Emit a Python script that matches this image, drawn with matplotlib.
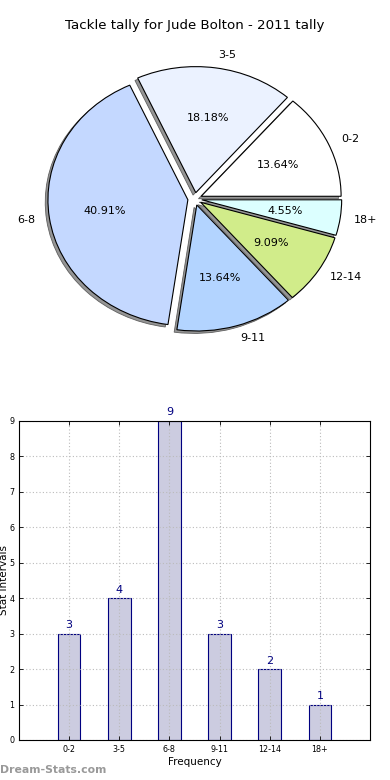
import matplotlib
matplotlib.use('Agg')
import matplotlib.pyplot as plt
import numpy as np

# tackle counts per stat interval
intervals = ['0-2', '3-5', '6-8', '9-11', '12-14', '18+']
counts = [3, 4, 9, 3, 2, 1]
pie_colors = ['#ffffff', '#ebf2ff', '#c4d8ff', '#b3d4ff', '#d1ec8a', '#dcffff']
title = 'Tackle tally for Jude Bolton - 2011 tally'

fig = plt.figure(figsize=(3.9, 7.8), dpi=100)

# pie on top (old style, not forced circular)
ax1 = fig.add_axes([0.051, 0.543, 0.897, 0.404])
ax1.pie(counts, labels=intervals, colors=pie_colors, explode=[0.05] * len(counts),
        autopct='%1.2f%%', startangle=0,
        shadow={'ox': -0.014, 'oy': -0.014, 'facecolor': '#8a8a8a', 'edgecolor': '#555555',
                'linewidth': 0.6, 'alpha': 0.9},
        wedgeprops={'edgecolor': 'black', 'linewidth': 0.8},
        textprops={'fontsize': 8})
ax1.set_aspect('auto')
ax1.set_xlim(-1.25, 1.25)
ax1.set_ylim(-1.25, 1.25)
ax1.set_title(title, fontsize=9.6, pad=9)

# frequency bars below
ax2 = fig.add_axes([0.0487, 0.0513, 0.9, 0.409])
x = np.arange(1, len(counts) + 1)
bars = ax2.bar(x, counts, width=0.45, color='#cccce0', edgecolor='navy', linewidth=0.8, zorder=2)
for xi, c in zip(x, counts):
    ax2.text(xi, c + 0.1, str(c), ha='center', va='bottom', color='navy', fontsize=8)
ax2.set_xlim(0, 7)
ax2.set_ylim(0, 9)
ax2.set_xticks(x)
ax2.set_xticklabels(intervals, fontsize=5.8)
ax2.set_yticks(range(10))
ax2.tick_params(axis='y', labelsize=5.8)
ax2.tick_params(direction='in', top=True, right=True, length=3, width=0.6)
ax2.grid(True, linestyle=(0, (1, 2)), color='#bbbbbb', linewidth=0.8, zorder=3)
ax2.set_axisbelow(False)
for sp in ax2.spines.values():
    sp.set_zorder(5)
ax2.set_xlabel('Frequency', fontsize=7.5, labelpad=2)
ax2.set_ylabel('Stat Intervals', fontsize=7.5)
ax2.yaxis.set_label_coords(-0.028, 0.5)

fig.text(0.0, 0.013, 'Dream-Stats.com', fontsize=7.8, color='#999999', fontweight='bold', ha='left', va='center')

fig.savefig('out.png', dpi=100)
